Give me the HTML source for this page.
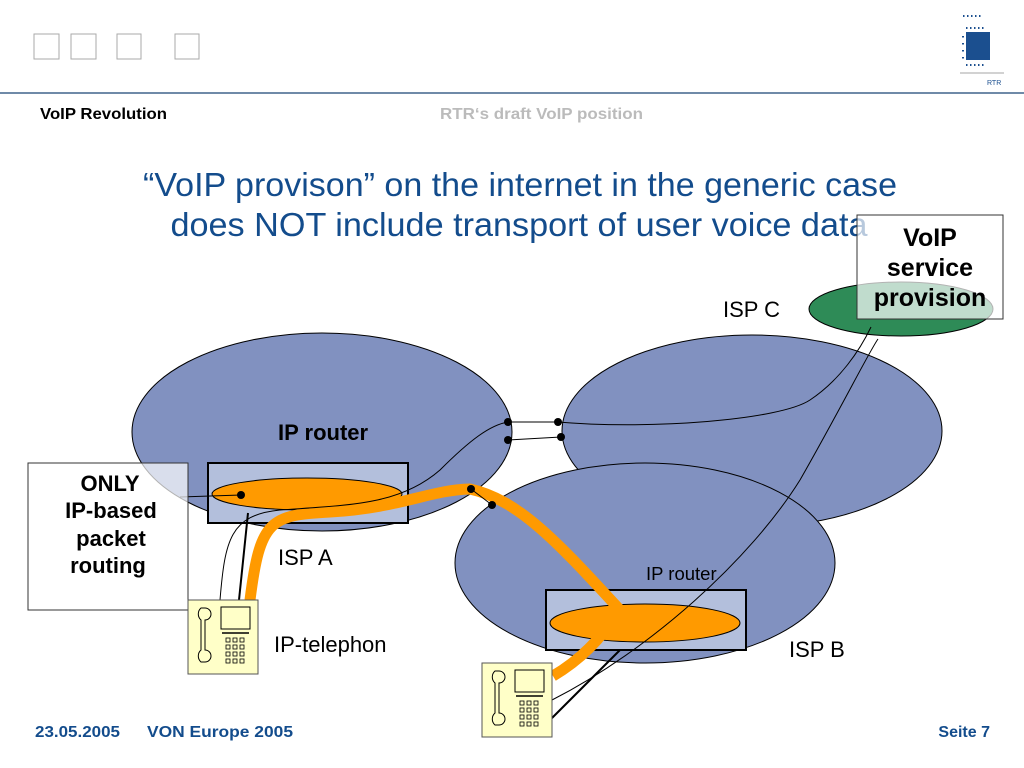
<!DOCTYPE html>
<html><head><meta charset="utf-8"><style>
html,body{margin:0;padding:0;background:#fff;}
svg{display:block;font-family:"Liberation Sans",Arial,sans-serif;}
</style></head><body>
<svg width="1024" height="768" viewBox="0 0 1024 768" xmlns="http://www.w3.org/2000/svg">
<!-- header -->
<g fill="none" stroke="#aaa" stroke-width="1">
<rect x="34" y="34" width="25" height="25"/><rect x="71" y="34" width="25" height="25"/><rect x="117" y="34" width="24" height="25"/><rect x="175" y="34" width="24" height="25"/>
</g>
<g>
<rect x="966" y="32" width="24" height="28" fill="#1b4f8f"/>
<g fill="#1b4f8f"><rect x="975" y="15" width="1.5" height="2"/><rect x="963" y="15" width="1.5" height="2"/><rect x="967" y="15" width="1.5" height="2"/><rect x="971" y="15" width="1.5" height="2"/><rect x="979" y="15" width="1.5" height="2"/>
<rect x="966" y="27" width="1.5" height="2"/><rect x="970" y="27" width="1.5" height="2"/><rect x="974" y="27" width="1.5" height="2"/><rect x="978" y="27" width="1.5" height="2"/><rect x="982" y="27" width="1.5" height="2"/>
<rect x="966" y="64" width="1.5" height="2"/><rect x="970" y="64" width="1.5" height="2"/><rect x="974" y="64" width="1.5" height="2"/><rect x="978" y="64" width="1.5" height="2"/><rect x="982" y="64" width="1.5" height="2"/>
<rect x="962" y="36" width="2" height="1.5"/><rect x="962" y="43" width="2" height="1.5"/><rect x="962" y="50" width="2" height="1.5"/><rect x="962" y="57" width="2" height="1.5"/></g>
<line x1="960" y1="73" x2="1004" y2="73" stroke="#888" stroke-width="0.8"/>
<text x="987" y="85" font-size="7" fill="#1b4f8f">RTR</text>
</g>
<line x1="0" y1="93" x2="1024" y2="93" stroke="#6f8aa8" stroke-width="2"/>
<text x="40" y="119" font-size="16" font-weight="bold" fill="#000" textLength="127" lengthAdjust="spacingAndGlyphs">VoIP Revolution</text>
<text x="440" y="119" font-size="16" font-weight="bold" fill="#bbb" textLength="203" lengthAdjust="spacingAndGlyphs">RTR‘s draft VoIP position</text>
<text x="520" y="196" font-size="33" fill="#134c8c" text-anchor="middle" textLength="754" lengthAdjust="spacingAndGlyphs">“VoIP provison” on the internet in the generic case</text>
<text x="519" y="236" font-size="33" fill="#134c8c" text-anchor="middle" textLength="697" lengthAdjust="spacingAndGlyphs">does NOT include transport of user voice data</text>

<!-- clouds -->
<g stroke="#000" stroke-width="1" fill="#8191c0">
<ellipse cx="322" cy="432" rx="190" ry="99"/>
<ellipse cx="752" cy="431" rx="190" ry="96"/>
<ellipse cx="645" cy="563" rx="190" ry="100"/>
</g>
<ellipse cx="901" cy="309" rx="92" ry="27" fill="#2e8b57" stroke="#000" stroke-width="1"/>
<rect x="857" y="215" width="146" height="104" fill="rgba(255,255,255,0.7)" stroke="#333" stroke-width="1"/>
<g font-size="25" font-weight="bold" text-anchor="middle" fill="#000">
<text x="930" y="246">VoIP</text><text x="930" y="276">service</text><text x="930" y="306">provision</text></g>

<!-- routers -->
<rect x="208" y="463" width="200" height="60" fill="#b3bfdc" stroke="#000" stroke-width="2"/>
<rect x="546" y="590" width="200" height="60" fill="#b3bfdc" stroke="#000" stroke-width="2"/>
<ellipse cx="307" cy="494" rx="95" ry="16" fill="#ff9a00" stroke="#000" stroke-width="1"/>
<ellipse cx="645" cy="623" rx="95" ry="19" fill="#ff9a00" stroke="#000" stroke-width="1"/>

<!-- orange path -->
<path d="M250 600 C 260 520, 270 515, 330 512 C 400 508, 430 490, 470 489 C 520 500, 560 545, 620 610 C 600 640, 580 660, 553 676" fill="none" stroke="#ff9a00" stroke-width="11" stroke-linejoin="round"/>

<!-- thin lines -->
<g fill="none" stroke="#000" stroke-width="1">
<path d="M220 600 C 225 540, 230 515, 280 510 C 350 505, 400 505, 440 470 C 470 440, 490 425, 508 422"/>
<path d="M508 422 L558 422 C 650 430, 780 420, 810 400 C 840 380, 860 350, 871 327"/>
<path d="M508 440 L561 437"/>
<path d="M471 489 L492 505"/>
<path d="M552 700 C 650 650, 750 560, 800 480 C 840 410, 870 350, 878 339"/>
<line x1="180" y1="497" x2="241" y2="495"/>
</g>
<g stroke="#000" stroke-width="2"><line x1="239" y1="600" x2="248" y2="513"/><line x1="552" y1="718" x2="620" y2="650"/></g>
<g fill="#000"><circle cx="508" cy="422" r="4"/><circle cx="558" cy="422" r="4"/><circle cx="508" cy="440" r="4"/><circle cx="561" cy="437" r="4"/><circle cx="471" cy="489" r="4"/><circle cx="492" cy="505" r="4"/><circle cx="241" cy="495" r="4"/></g>

<!-- ONLY box -->
<rect x="28" y="463" width="160" height="147" fill="rgba(255,255,255,0.7)" stroke="#333" stroke-width="1"/>
<g font-size="22" font-weight="bold" text-anchor="middle" fill="#000">
<text x="110" y="491">ONLY</text><text x="111" y="518">IP-based</text><text x="111" y="546">packet</text><text x="108" y="573">routing</text></g>

<!-- labels -->
<text x="278" y="440" font-size="22" font-weight="bold">IP router</text>
<text x="278" y="565" font-size="22">ISP A</text>
<text x="274" y="652" font-size="22">IP-telephon</text>
<text x="723" y="317" font-size="22">ISP C</text>
<text x="789" y="657" font-size="22">ISP B</text>
<text x="646" y="580" font-size="18.5">IP router</text>

<!-- phones -->
<defs>
<g id="ph">
<rect x="0" y="0" width="70" height="74" fill="#ffffc8" stroke="#555" stroke-width="1"/>
<path d="M13 8 h4 a6 6 0 0 1 0 12 v30 a6 6 0 0 1 0 12 h-4 a8 8 0 0 1 0 -12 v-30 a8 8 0 0 1 0 -12z" fill="none" stroke="#000" stroke-width="1"/>
<rect x="33" y="7" width="29" height="22" fill="none" stroke="#000"/>
<line x1="34" y1="33" x2="61" y2="33" stroke="#000" stroke-width="1.5"/>
<g fill="none" stroke="#000" stroke-width="0.8">
<rect x="38" y="38" width="4" height="4"/><rect x="45" y="38" width="4" height="4"/><rect x="52" y="38" width="4" height="4"/>
<rect x="38" y="45" width="4" height="4"/><rect x="45" y="45" width="4" height="4"/><rect x="52" y="45" width="4" height="4"/>
<rect x="38" y="52" width="4" height="4"/><rect x="45" y="52" width="4" height="4"/><rect x="52" y="52" width="4" height="4"/>
<rect x="38" y="59" width="4" height="4"/><rect x="45" y="59" width="4" height="4"/><rect x="52" y="59" width="4" height="4"/></g>
</g></defs>
<use href="#ph" x="188" y="600"/>
<use href="#ph" x="482" y="663"/>

<!-- footer -->
<text x="35" y="737" font-size="16" font-weight="bold" fill="#134c8c" textLength="85" lengthAdjust="spacingAndGlyphs">23.05.2005</text>
<text x="147" y="737" font-size="16" font-weight="bold" fill="#134c8c" textLength="146" lengthAdjust="spacingAndGlyphs">VON  Europe 2005</text>
<text x="990" y="737" font-size="16" font-weight="bold" fill="#134c8c" text-anchor="end">Seite 7</text>
</svg>
</body></html>
